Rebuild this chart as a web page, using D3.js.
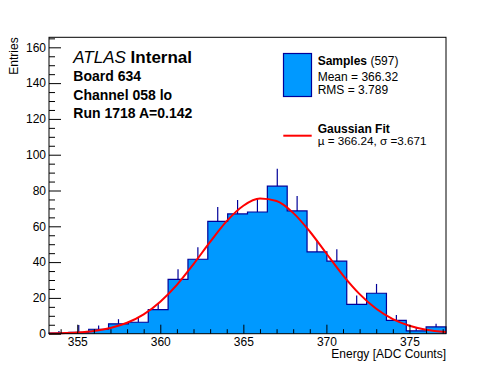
<!DOCTYPE html>
<html>
<head>
<meta charset="utf-8">
<script src="https://cdn.jsdelivr.net/npm/d3@7"></script>
<style>
  body { margin: 0; background: #fff; }
  svg { display: block; font-family: "Liberation Sans", Arial, Helvetica, sans-serif; }
</style>
</head>
<body>
<svg id="chart" width="496" height="372"></svg>
<script>
// histogram: 20 bins between binLo and binHi
const binLo = 353.3;
const binHi = 377.2;
const counts = [0.4, 0.8, 2.5, 5.5, 6.4, 13.4, 30.4, 41.6, 62.8, 66.9,
                68.0, 82.4, 68.6, 45.7, 40.5, 16.4, 22.6, 7.5, 1.6, 3.8];
// top end of each error bar
const errHi = [1.5, 4.9, 4.6, 8.1, 8.8, 16.6, 36.0, 48.3, 70.8, 74.7,
               75.5, 92.1, 77.0, 52.4, 47.2, 21.3, 27.8, 10.4, 3.4, 5.6];

// gaussian fit curve
const fitX = [353.3, 354, 355, 356, 357, 358, 359, 360, 361, 362, 363, 364, 365,
              366, 367, 368, 369, 370, 371, 372, 373, 374, 375, 376, 377.2];
const fitY = [0.15, 0.3, 0.7, 1.55, 3.2, 6.1, 10.8, 17.9, 27.3, 38.9, 51.3, 62.9, 71.5,
              75.5, 74.1, 67.5, 57.1, 44.8, 32.6, 22.1, 13.9, 8.1, 4.4, 2.2, 0.9];

const xMajor = [355, 360, 365, 370, 375];
const yMajor = [0, 20, 40, 60, 80, 100, 120, 140, 160];
const yMax = 165.6;

const infoLines = ['Board 634', 'Channel 058 lo', 'Run 1718 A=0.142'];

const svg = d3.select('#chart');
const frame = { left: 49, right: 446, top: 37.3, bottom: 333.7 };

const x = d3.scaleLinear().domain([binLo, binHi]).range([frame.left, frame.right]);
const y = d3.scaleLinear().domain([0, yMax]).range([frame.bottom, frame.top]);

const binW = (binHi - binLo) / counts.length;
const bins = counts.map((c, i) => ({ x0: binLo + i * binW, x1: binLo + (i + 1) * binW, c: c, e: errHi[i] }));

// error bars (only the part above the bar shows)
svg.append('g').selectAll('line')
  .data(bins)
  .join('line')
  .attr('x1', d => x((d.x0 + d.x1) / 2))
  .attr('x2', d => x((d.x0 + d.x1) / 2))
  .attr('y1', d => y(d.c))
  .attr('y2', d => y(d.e))
  .attr('stroke', '#000099')
  .attr('stroke-width', 1.2);

// staircase points
const steps = [];
steps.push([binLo, 0]);
bins.forEach(d => { steps.push([d.x0, d.c]); steps.push([d.x1, d.c]); });
steps.push([binHi, 0]);

// filled histogram as one area (no seams between bins)
svg.append('path')
  .datum(steps)
  .attr('fill', '#0099ff')
  .attr('d', d3.area().x(d => x(d[0])).y0(y(0)).y1(d => y(d[1])));

svg.append('path')
  .datum(steps)
  .attr('fill', 'none')
  .attr('stroke', '#000099')
  .attr('stroke-width', 1.2)
  .attr('d', d3.line().x(d => x(d[0])).y(d => y(d[1])));

// fit
svg.append('path')
  .datum(fitX.map((v, i) => [v, fitY[i]]))
  .attr('fill', 'none')
  .attr('stroke', '#ff0000')
  .attr('stroke-width', 2)
  .attr('d', d3.line().x(d => x(d[0])).y(d => y(d[1])).curve(d3.curveMonotoneX));

// axes
svg.append('g')
  .attr('transform', `translate(${frame.left},0)`)
  .call(d3.axisLeft(y).tickValues(yMajor).tickSize(-12).tickPadding(3));
svg.append('g')
  .attr('transform', `translate(${frame.left},0)`)
  .call(d3.axisLeft(y).tickValues(d3.range(0, yMax, 5).filter(v => v % 20)).tickSize(-6).tickFormat(''));

svg.append('g')
  .attr('transform', `translate(0,${frame.bottom})`)
  .call(d3.axisBottom(x).tickValues(xMajor).tickSize(-9).tickPadding(4));
svg.append('g')
  .attr('transform', `translate(0,${frame.bottom})`)
  .call(d3.axisBottom(x).tickValues(d3.range(354, 378, 1).filter(v => v % 5)).tickSize(-4.5).tickFormat(''));

svg.selectAll('.domain').remove();
svg.selectAll('.tick line').attr('stroke', '#000');
svg.selectAll('.tick text').attr('font-size', 12).attr('fill', '#000')
  .attr('font-family', '"Liberation Sans", Arial, sans-serif');

// frame
svg.append('rect')
  .attr('x', frame.left).attr('y', frame.top)
  .attr('width', frame.right - frame.left).attr('height', frame.bottom - frame.top)
  .attr('fill', 'none').attr('stroke', '#000').attr('stroke-width', 1);

// axis titles
svg.append('text')
  .attr('transform', `translate(17.5,${frame.top}) rotate(-90)`)
  .attr('text-anchor', 'end')
  .attr('font-size', 12)
  .text('Entries');
svg.append('text')
  .attr('x', frame.right)
  .attr('y', 358.3)
  .attr('text-anchor', 'end')
  .attr('font-size', 12)
  .text('Energy [ADC Counts]');

// ATLAS label block
const atlas = svg.append('text').attr('x', 73.3).attr('y', 63.3).attr('font-size', 17);
atlas.append('tspan').attr('font-style', 'italic').text('ATLAS');
atlas.append('tspan').attr('font-weight', 'bold').text(' Internal');
infoLines.forEach((t, i) => {
  svg.append('text')
    .attr('x', 73.3)
    .attr('y', 81 + i * 18.65)
    .attr('font-size', 14)
    .attr('font-weight', 'bold')
    .text(t);
});

// legend
const lg = svg.append('g');
lg.append('rect')
  .attr('x', 283.5).attr('y', 53.5).attr('width', 28).attr('height', 43)
  .attr('fill', '#0099ff').attr('stroke', '#000099').attr('stroke-width', 1.2);
const s1 = lg.append('text').attr('x', 317.7).attr('y', 65.3).attr('font-size', 12);
s1.append('tspan').attr('font-weight', 'bold').text('Samples');
s1.append('tspan').text(' (597)');
lg.append('text').attr('x', 317.7).attr('y', 80.7).attr('font-size', 12).text('Mean = 366.32');
lg.append('text').attr('x', 317.7).attr('y', 93.8).attr('font-size', 12).text('RMS = 3.789');

lg.append('line')
  .attr('x1', 283.3).attr('x2', 311.7).attr('y1', 135.7).attr('y2', 135.7)
  .attr('stroke', '#ff0000').attr('stroke-width', 2);
lg.append('text').attr('x', 317.7).attr('y', 132.8).attr('font-size', 12)
  .attr('font-weight', 'bold').text('Gaussian Fit');
lg.append('text').attr('x', 317.7).attr('y', 145.2).attr('font-size', 11.7)
  .text('\u00b5 = 366.24, \u03c3 =3.671');
</script>
</body>
</html>
